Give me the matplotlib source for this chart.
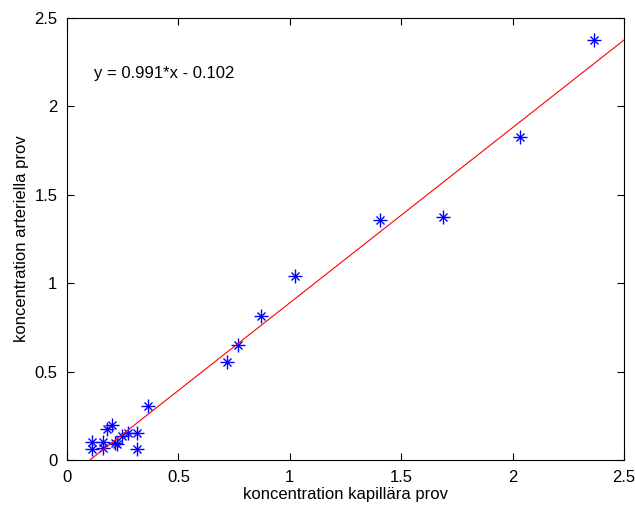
import matplotlib
matplotlib.use("Agg")
import matplotlib.pyplot as plt
import numpy as np

plt.rcParams['font.family'] = ['Liberation Sans', 'DejaVu Sans']

x_kap = [0.114, 0.114, 0.160, 0.163, 0.178, 0.200, 0.215, 0.224, 0.248, 0.272,
         0.313, 0.313, 0.362, 0.718, 0.766, 0.869, 1.023, 1.405, 1.686, 2.033, 2.365]
y_art = [0.104, 0.062, 0.070, 0.104, 0.173, 0.198, 0.094, 0.090, 0.137, 0.151,
         0.151, 0.062, 0.307, 0.554, 0.650, 0.816, 1.041, 1.357, 1.373, 1.829, 2.375]
slope = 0.991
intercept = -0.102
line_x = [0.103, 2.5]
eq_text = "y = 0.991*x - 0.102"
xticks = [0, 0.5, 1, 1.5, 2, 2.5]
yticks = [0, 0.5, 1, 1.5, 2, 2.5]

fig = plt.figure(figsize=(6.35, 5.05), dpi=100)
ax = fig.add_axes([67/635, 45/505, 557/635, 442/505])
ax.plot(x_kap, y_art, linestyle='none', marker='+', color='blue',
        markersize=10, markeredgewidth=1.0)
ax.plot(x_kap, y_art, linestyle='none', marker='x', color='blue',
        markersize=6, markeredgewidth=1.0)
lx = np.array(line_x)
ax.plot(lx, slope * lx + intercept, color='red', linewidth=0.8)
ax.set_xlim(0, 2.5)
ax.set_ylim(0, 2.5)
ax.set_xticks(xticks)
ax.set_yticks(yticks)
ax.set_xticklabels(['0', '0.5', '1', '1.5', '2', '2.5'])
ax.set_yticklabels(['0', '0.5', '1', '1.5', '2', '2.5'])
ax.tick_params(direction='in', top=True, right=True, labelsize=12, length=5)
ax.tick_params(axis='x', pad=7)
ax.tick_params(axis='y', pad=7)
ax.set_xlabel('koncentration kapillära prov', fontsize=12, labelpad=2)
ax.set_ylabel('koncentration arteriella prov', fontsize=12, labelpad=4)
ax.text(0.12, 2.185, eq_text, fontsize=12, va='center', ha='left')
fig.savefig('out.png', dpi=100)
